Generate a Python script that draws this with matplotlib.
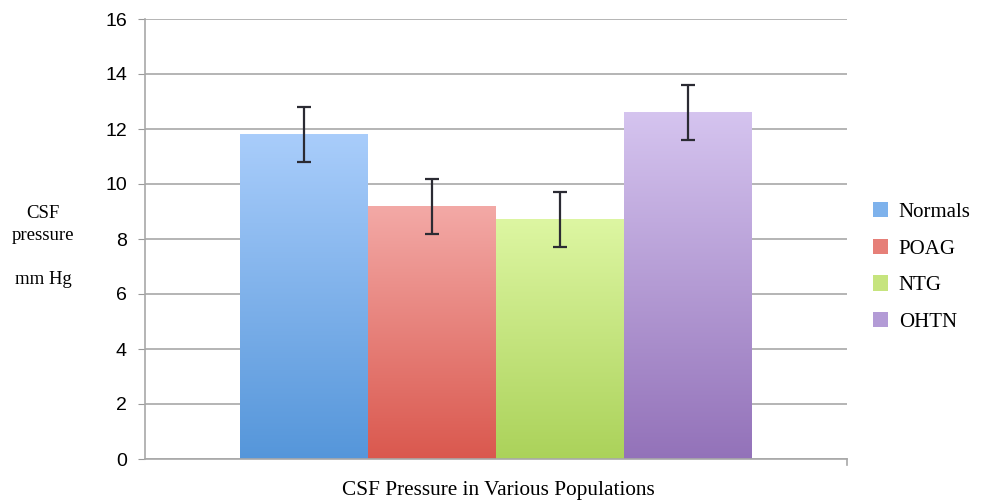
import numpy as np
import matplotlib.pyplot as plt
from matplotlib.colors import LinearSegmentedColormap
from matplotlib.patches import Patch

groups = ['Normals', 'POAG', 'NTG', 'OHTN']
means = [11.8, 9.2, 8.7, 12.6]
errors = [1.0, 1.0, 1.0, 1.0]
top_colors = ['#a9cdfb', '#f3a9a6', '#ddf6a2', '#d5c4ef']
bottom_colors = ['#5596da', '#da584e', '#abd25a', '#9372b9']
yticks = [0, 2, 4, 6, 8, 10, 12, 14, 16]

fig = plt.figure(figsize=(9.82, 5.01), dpi=100)
ax = fig.add_axes([145 / 982, 1 - 459 / 501, 702 / 982, 440 / 501])

w = 0.1823
xs = [(i - 1.5) * w for i in range(len(groups))]

for x, m, c_top, c_bot in zip(xs, means, top_colors, bottom_colors):
    cmap = LinearSegmentedColormap.from_list('g', [c_bot, c_top])
    grad = np.linspace(0, 1, 256).reshape(-1, 1)
    ax.imshow(grad, cmap=cmap, origin='lower', aspect='auto',
              extent=(x - w / 2, x + w / 2, 0, m), zorder=2)

ax.errorbar(xs, means, yerr=errors, fmt='none', ecolor='#2b2b33',
            elinewidth=1.6, capsize=5, capthick=1.6, zorder=3)

ax.set_xlim(-0.5, 0.5)
ax.set_ylim(0, 16)
ax.set_yticks(yticks)
ax.set_yticklabels([str(t) for t in yticks], fontsize=14, color='#000000',
                   family='Liberation Sans')
ax.set_xticks([])
ax.tick_params(axis='y', length=5, color='#999999', pad=8)
ax.grid(axis='y', color='#a8a8a8', linewidth=1.2, zorder=0)
ax.set_axisbelow(True)
for s in ['top', 'right']:
    ax.spines[s].set_visible(False)
ax.spines['left'].set_color('#a8a8a8')
ax.spines['bottom'].set_color('#a8a8a8')
ax.spines['left'].set_linewidth(1.2)
ax.spines['bottom'].set_linewidth(1.2)
ax.plot([0.5, 0.5], [0, -0.2], color='#a8a8a8', lw=1.2, clip_on=False)

serif = 'Liberation Serif'
fig.text(43 / 982, 1 - 213 / 501, 'CSF', ha='center', va='center', fontsize=13.5, family=serif)
fig.text(43 / 982, 1 - 236 / 501, 'pressure', ha='center', va='center', fontsize=13.5, family=serif)
fig.text(43 / 982, 1 - 279 / 501, 'mm Hg', ha='center', va='center', fontsize=13.5, family=serif)
fig.text(498 / 982, 1 - 490 / 501, 'CSF Pressure in Various Populations', ha='center', va='center',
         fontsize=15.3, family=serif)

handles = [Patch(facecolor=c, edgecolor='none') for c in
           ['#7eb2ec', '#e67f78', '#c6e47e', '#b39bd6']]
fig.legend(handles, groups, loc='center left', bbox_to_anchor=(854 / 982, 1 - 267 / 501),
           frameon=False, prop={'family': serif, 'size': 15}, handlelength=0.75,
           handleheight=0.75, handletextpad=0.5, labelspacing=0.8)

fig.savefig('out.png', dpi=100)
